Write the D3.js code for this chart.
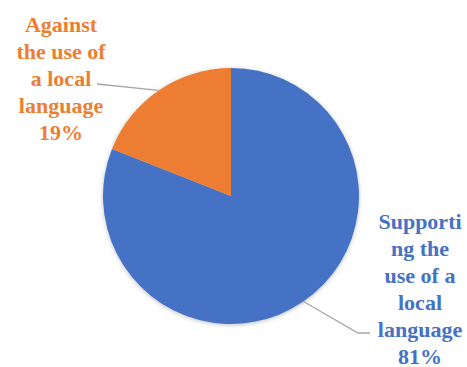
<!DOCTYPE html>
<html>
<head>
<meta charset="utf-8">
<script src="https://cdn.jsdelivr.net/npm/d3@7"></script>
<style>
  body { margin: 0; background: #fff; }
  svg { display: block; }
  svg text { font-family: 'Liberation Serif', 'Times New Roman', serif; font-weight: bold; font-size: 22px; }
</style>
</head>
<body>
<svg id="chart" width="467" height="367" font-family="Liberation Serif"></svg>
<script>
// data
const categories = ['Supporting the use of a local language', 'Against the use of a local language'];
const values = [81, 19];
const colors = ['#4472C4', '#ED7D31'];
// label lines as they wrap in the original
const labelLines = [
  ['Supporti', 'ng the', 'use of a', 'local', 'language', '81%'],
  ['Against', 'the use of', 'a local', 'language', '19%']
];

const svg = d3.select('#chart');
const cx = 231, cy = 196, r = 128;

// soft shadow round the pie
const defs = svg.append('defs');
const f = defs.append('filter').attr('id', 'shadow')
  .attr('x', '-10%').attr('y', '-10%').attr('width', '120%').attr('height', '120%');
f.append('feDropShadow').attr('dx', 0).attr('dy', 1).attr('stdDeviation', 2)
  .attr('flood-color', '#000').attr('flood-opacity', 0.25);

const pie = d3.pie().sort(null).value((d) => d)(values);
const arc = d3.arc().innerRadius(0).outerRadius(r);

const g = svg.append('g').attr('transform', `translate(${cx},${cy})`);
g.append('g').attr('filter', 'url(#shadow)')
  .selectAll('path')
  .data(pie)
  .enter()
  .append('path')
  .attr('d', arc)
  .attr('fill', (d, i) => colors[i]);

// leader lines: from pie edge out to the label
const leaders = [
  { angle: 2.54, elbow: [358, 333], end: [370, 333] },
  { angle: -0.6, elbow: null, end: [97, 84] }
];
leaders.forEach((l) => {
  const p = [cx + r * Math.sin(l.angle), cy - r * Math.cos(l.angle)];
  const pts = [p];
  if (l.elbow) pts.push(l.elbow);
  pts.push(l.end);
  svg.append('path')
    .attr('d', d3.line()(pts))
    .attr('fill', 'none')
    .attr('stroke', '#A6A6A6')
    .attr('stroke-width', 1.3);
});

// labels, one text element per wrapped line
const labelPos = [
  { x: 420, y: 229 },
  { x: 61, y: 32 }
];
labelLines.forEach((lines, i) => {
  svg.append('g')
    .selectAll('text')
    .data(lines)
    .enter()
    .append('text')
    .attr('x', labelPos[i].x)
    .attr('y', (d, j) => labelPos[i].y + j * 27)
    .attr('text-anchor', 'middle')
    .attr('fill', colors[i])
    .attr('font-family', 'Liberation Serif')
    .text((d) => d);
});
</script>
</body>
</html>
